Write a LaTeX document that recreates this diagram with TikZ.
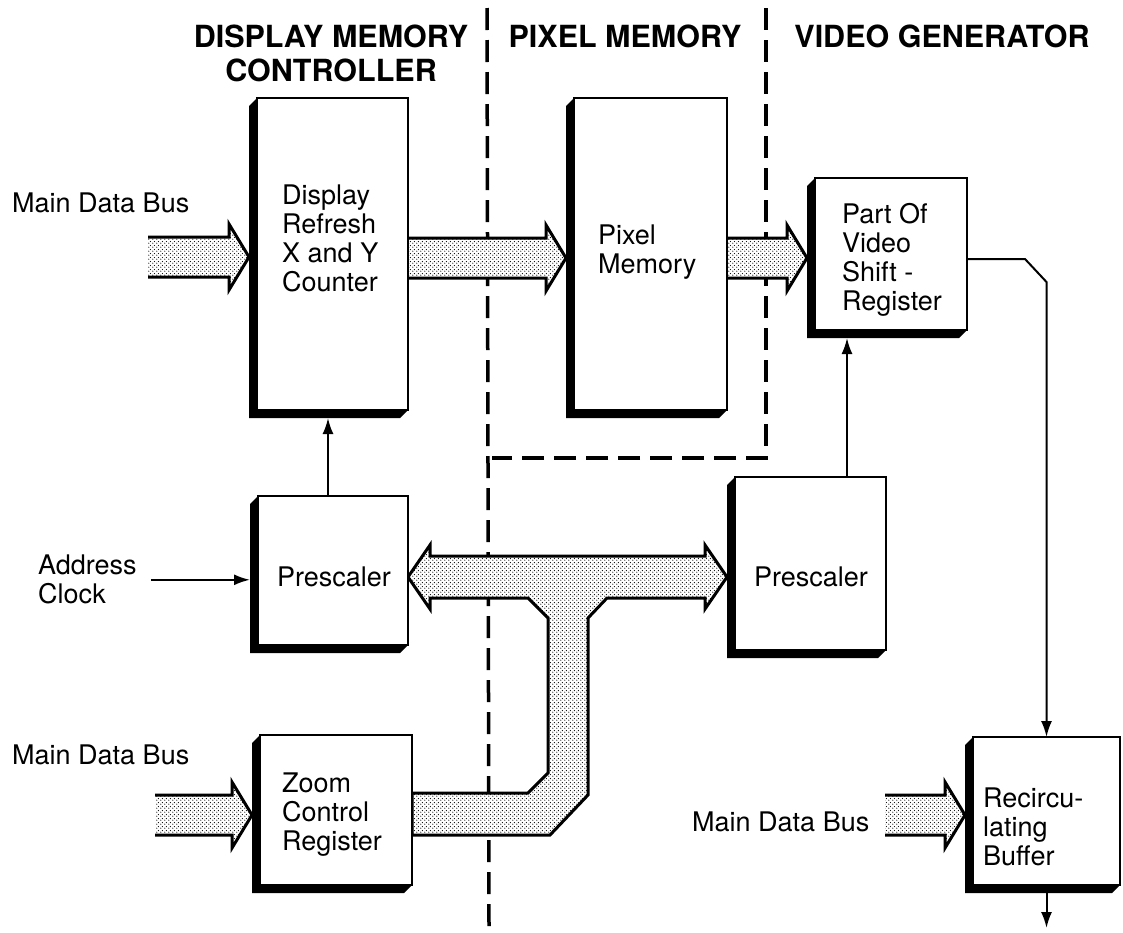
\documentclass[tikz,border=0pt]{standalone}
\usepackage{fontspec}
\setmainfont{TeX Gyre Heros}
\usetikzlibrary{arrows.meta,patterns.meta,calc}
\pgfdeclarelayer{bg}
\pgfsetlayers{bg,main}

% fine dot screen used inside the buses
\tikzdeclarepattern{
  name=busdots, type=uncolored,
  bounding box={(0pt,0pt) and (4pt,4pt)},
  tile size={(4pt,4pt)},
  code={\fill (1pt,1pt) circle (0.75pt); \fill (3pt,3pt) circle (0.75pt);}}

% black drop shadow on the left and bottom of a unit
\newcommand\boxshadow[1]{%
  \fill (#1.north west) -- ++(-8,8) -- ($(#1.south west)+(-8,8)$)
        -- ($(#1.south east)+(-8,8)$) -- (#1.south east)
        -- (#1.south west) -- cycle;}

% wide shaded bus arrow, #1 = tail, #2 = tip (same height)
\newcommand\busarrow[2]{%
  \path[busfill] let \p1=#1, \p2=#2 in
    (\x1,\y1+20pt) -- (\x2-20pt,\y1+20pt) -- (\x2-20pt,\y1+33pt) -- (\x2,\y1)
    -- (\x2-20pt,\y1-33pt) -- (\x2-20pt,\y1-20pt) -- (\x1,\y1-20pt) -- cycle;
  \draw[busline] let \p1=#1, \p2=#2 in
    (\x1,\y1+20pt) -- (\x2-20pt,\y1+20pt) -- (\x2-20pt,\y1+33pt) -- (\x2,\y1)
    -- (\x2-20pt,\y1-33pt) -- (\x2-20pt,\y1-20pt) -- (\x1,\y1-20pt);}

\begin{document}
\begin{tikzpicture}[x=1pt,y=-1pt,
  unit/.style={draw, line width=2.5pt, fill=white, inner sep=0pt,
               outer sep=0pt, anchor=north west},
  lbl/.style={font=\fontsize{27}{29}\selectfont, align=left,
              inner sep=0pt, anchor=north west},
  head/.style={font=\fontsize{30.5}{34}\selectfont\bfseries,
               inner sep=0pt, anchor=base},
  sig/.style={line width=2pt, -{Latex[length=16pt,width=11pt]}},
  divider/.style={line width=3.5pt, dash pattern=on 22pt off 10pt},
  busfill/.style={preaction={fill=white}, pattern=busdots},
  busline/.style={line width=3pt}]

\begin{pgfonlayer}{bg}
  \fill[white] (0,0) rectangle (1123,932);
\end{pgfonlayer}
\useasboundingbox (0,0) rectangle (1123,932);

% section headings
\node[head] (hdA) at (331,47) {DISPLAY MEMORY};
\node[head] (hdB) at (331,81) {CONTROLLER};
\node[head] (hdC) at (625,47) {PIXEL MEMORY};
\node[head] (hdD) at (942,47) {VIDEO GENERATOR};

% functional units
\node[unit, minimum width=151pt, minimum height=312pt] (disp)    at (257,98)  {};
\node[unit, minimum width=153pt, minimum height=312pt] (pix)     at (574,98)  {};
\node[unit, minimum width=152pt, minimum height=152pt] (shift)   at (815,178) {};
\node[unit, minimum width=150pt, minimum height=149pt] (presL)   at (258,496) {};
\node[unit, minimum width=151pt, minimum height=173pt] (presR)   at (735,477) {};
\node[unit, minimum width=152pt, minimum height=150pt] (zoomreg) at (260,735) {};
\node[unit, minimum width=147pt, minimum height=148pt] (recirc)  at (973,737) {};
\foreach \b in {disp,pix,shift,presL,presR,zoomreg,recirc} {\boxshadow{\b}}

% unit texts
\node[lbl] (tdisp)  at (282,185) {Display\\Refresh\\X and Y\\Counter};
\node[lbl] (tpix)   at (598,225) {Pixel\\Memory};
\node[lbl] (tshift) at (842,203) {Part Of\\Video\\Shift -\\Register};
\node[lbl, anchor=center] (tpresL) at (334,577) {Prescaler};
\node[lbl, anchor=center] (tpresR) at (811,577) {Prescaler};
\node[lbl] (tzoom)  at (282,773) {Zoom\\Control\\Register};
\node[lbl] (trec)   at (983,788) {Recircu-\\lating\\Buffer};

% outside inputs
\node[lbl] (addr)  at (38,555)  {Address\\Clock};
\node[lbl] (mdbtA) at (12,193)  {Main Data Bus};
\node[lbl] (mdbtB) at (12,745)  {Main Data Bus};
\node[lbl] (mdbtC) at (692,812) {Main Data Bus};

% section dividers and buses, under the units
\begin{pgfonlayer}{bg}
  \draw[divider] (487,8) -- (489,926);
  \draw[divider] (766,8) -- (766,458) -- (492,458);

  \coordinate (mdbA) at (148,257);
  \coordinate (mdbB) at (155,815);
  \coordinate (mdbC) at (885,815);
  \busarrow{(mdbA)}{($(mdbA -| disp.west)+(-8,0)$)}
  \busarrow{(disp.east |- 0,258)}{($(pix.west |- 0,258)+(-8,0)$)}
  \busarrow{(pix.east |- 0,258)}{($(shift.west |- 0,258)+(-8,0)$)}
  \busarrow{(mdbB)}{($(mdbB -| zoomreg.west)+(-8,0)$)}
  \busarrow{(mdbC)}{($(mdbC -| recirc.west)+(-8,0)$)}

  % zoom register bus feeding both prescalers
  \coordinate (tl) at (presL.east |- 0,577);
  \coordinate (tr) at ($(presR.west |- 0,577)+(-8,0)$);
  \coordinate (tb) at (zoomreg.east |- 0,814);
  \draw[busfill, busline]
    (tl) -- (430,545) -- (430,556) -- (705,556) -- (705,545) -- (tr)
    -- (705,609) -- (705,598) -- (607,598) -- (588,618) -- (588,795)
    -- (550,835) -- (tb |- 0,835) -- (tb |- 0,793) -- (528,793)
    -- (548,773) -- (548,618) -- (528,598) -- (430,598) -- (430,609) -- cycle;
\end{pgfonlayer}

% control signals
\draw[sig] (328,0 |- presL.north) -- ($(328,0 |- disp.south)+(0,8)$);
\draw[sig] (847,0 |- presR.north) -- ($(847,0 |- shift.south)+(0,8)$);
\draw[sig] ($(addr.east)+(14,0)$) -- ($(addr.east -| presL.west)+(-8,0)$);
\draw[sig] (shift.east |- 0,259) -- (1025,259) -- (recirc.north |- 0,282)
           -- (recirc.north);
\draw[sig] ($(recirc.south)+(0,8)$) -- ++(0,35);

\end{tikzpicture}
\end{document}
